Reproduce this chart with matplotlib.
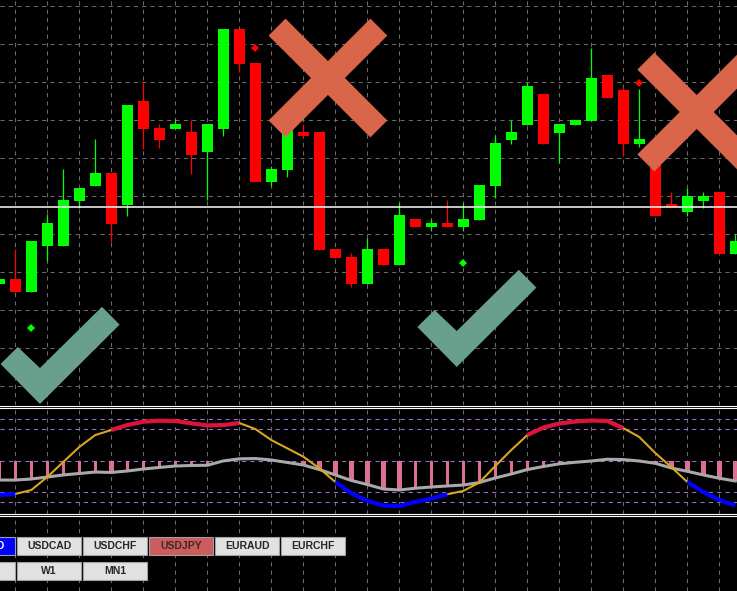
import matplotlib
matplotlib.use("Agg")
import matplotlib.pyplot as plt
from matplotlib.patches import Polygon, Rectangle
from matplotlib.lines import Line2D
import numpy as np

plt.rcParams['lines.scale_dashes'] = False

# candles (price in points above the bottom of the price window)
opens = [121, 125.7, 113.3, 159.3, 159.3, 204.3, 219.3, 232, 200.3, 304, 277, 276.3, 273, 253.3, 276.3,
         376, 341.7, 223.3, 235.3, 272.7, 273, 156.3, 148.3, 121.3, 156, 140, 186, 178, 182, 178, 185,
         219, 265, 280, 311, 272, 280, 284, 330, 315, 261, 255, 201, 193, 204, 213, 151]
highs = [125.7, 156, 164, 190.7, 236, 217, 266, 232, 300, 322.7, 281, 286, 284.7, 281, 376,
         376, 341.7, 239.3, 277, 280.7, 273, 156.3, 151.7, 167.3, 156, 202, 186, 186, 205, 202, 220,
         270, 285, 323, 311, 281, 285, 357, 330, 318.3, 315.7, 255, 213, 217, 213, 213, 171]
lows = [121, 113.3, 113.3, 144.3, 159.3, 196.7, 219.3, 163.3, 189.3, 256.3, 257.3, 276.3, 231.3, 204.7, 269.3,
        333.3, 223.3, 219.3, 228.3, 267.3, 155.3, 147, 117.7, 121.3, 140, 140, 178, 174, 178, 174, 185,
        207, 261, 280, 261, 242, 280, 284, 307, 249, 257.7, 189.3, 198, 189, 197, 151, 151]
closes = [125.7, 113.3, 164, 182, 205, 217, 232, 181.3, 300, 276.3, 265.3, 281, 250.3, 281, 376,
          341.3, 223.3, 236, 277, 269.3, 155.3, 147, 121.3, 156.3, 140, 190, 178, 182, 178, 186, 220,
          262, 273, 319, 261, 281, 285, 327, 307, 261, 266, 189.3, 198, 209, 209, 151, 164]
bid_price = 198.5
price_grid = [18.7, 56.7, 94.7, 132.7, 170.7, 208.7, 246.7, 284.7, 322.7, 360.7, 398.7]

# signal arrows and trade marks (candle index, price)
sell_idx = [16, 40]
sell_px = [357, 322]
buy_idx = [2, 29]
buy_px = [77, 142]
cross_at = [(20.54, 327), (43.59, 293)]
tick_at = [(2.54, 1), (28.59, 38)]

# oscillator 0-100 and its signal line
osc = [16.9, 17.9, 21.7, 34.2, 48.7, 63.1, 74.6, 79.4, 84.2, 87.4, 88.4, 88.1, 85.9, 83.8, 84.2,
       86.2, 80.4, 69.8, 61.8, 53.8, 42.6, 29.4, 18.6, 11.2, 6.8, 6.3, 10.2, 13.4, 17.6, 20.8, 28.9,
       44.8, 60.2, 74.6, 81.8, 85.7, 87.6, 88.6, 88.1, 81.3, 72.7, 57.3, 43.8, 29.4, 19.8, 12.1, 6.8]
osc_zone = "b" + "o" * 6 + "r" * 8 + "o" * 6 + "b" * 7 + "o" * 5 + "r" * 6 + "o" * 4 + "b" * 3
signal = [31.3, 31.3, 32.3, 34.2, 36.2, 37.6, 39.0, 38.6, 40.0, 41.9, 43.4, 44.8, 45.3, 45.5, 49.7,
          51.7, 52.0, 50.6, 48.2, 45.8, 41.4, 36.2, 30.9, 27.0, 22.7, 21.7, 23.4, 24.6, 25.6, 26.5, 28.9,
          33.3, 37.1, 41.4, 44.3, 46.9, 48.4, 49.6, 51.3, 51.0, 49.6, 47.4, 42.9, 39.7, 36.2, 33.0, 30.4]
levels = [10, 20, 50, 80, 90]

row1 = ["NZDUSD", "USDCAD", "USDCHF", "USDJPY", "EURAUD", "EURCHF"]
row2 = ["D1", "W1", "MN1"]
current_pair = "NZDUSD"
active_pair = "USDJPY"

W, H = 737, 591
STEP = 16.0  # pixels per candle
x_lo, x_hi = 0.7 / STEP, (W + 0.7) / STEP

fig = plt.figure(figsize=(W / 100, H / 100), dpi=100, facecolor="black")

x = np.arange(len(opens))
o, hi, lo, c = map(np.array, (opens, highs, lows, closes))
vgrid = x[1::2]
grid_kw = dict(color="#6a6a6a", lw=0.75, ls=(0, (3, 3)))


def fy(p):
    return 1 - p / H


def setup(a):
    a.set_facecolor("black")
    a.set_xlim(x_lo, x_hi)
    for s in a.spines.values():
        s.set_visible(False)
    a.set_xticks([])
    a.set_yticks([])
    for gx in vgrid:
        a.axvline(gx, zorder=0, **grid_kw)


# price window
ax = fig.add_axes([0, fy(405), 1, 405 / H])
setup(ax)
ax.set_ylim(0, 405)
for gy in price_grid:
    ax.axhline(gy, zorder=0, **grid_kw)

cols = np.where(c >= o, "#00ff00", "#ff0000")
ax.vlines(x, lo, hi, colors=cols, lw=0.9, zorder=2)
ax.bar(x, np.maximum(np.abs(c - o), 1), bottom=np.minimum(o, c), width=0.66, color=cols, lw=0, zorder=3)
ax.axhline(bid_price, color="white", lw=1.1, zorder=4)
ax.plot(sell_idx, sell_px, "D", color="#ff0000", ms=4.5, mew=0, zorder=5)
ax.plot(buy_idx, buy_px, "D", color="#00ff00", ms=4.5, mew=0, zorder=5)

# big X and tick overlays, drawn in pixel offsets
L, hw = 72.0, 12.0
r2 = np.sqrt(0.5)
for cx, cy in cross_at:
    for ux, uy in [(r2, r2), (r2, -r2)]:
        vx, vy = uy, -ux
        pts = [(sx * L * ux + sw * hw * vx, sx * L * uy + sw * hw * vy)
               for sx, sw in [(1, 1), (1, -1), (-1, -1), (-1, 1)]]
        ax.add_patch(Polygon([(cx + dx / STEP, cy + dy) for dx, dy in pts],
                             closed=True, fc="#d9654b", ec="none", zorder=6))
tick_shape = [(0, 0), (-39.4, 40), (-22.2, 57), (0, 36), (62, 97.2), (79.7, 79.4)]
for cx, cy in tick_at:
    ax.add_patch(Polygon([(cx + dx / STEP, cy + dy) for dx, dy in tick_shape],
                         closed=True, fc="#699f8d", ec="none", zorder=6))

# oscillator window
ax2 = fig.add_axes([0, fy(513.5), 1, 106 / H])
setup(ax2)
ax2.set_ylim(-0.9, 101.1)
for lv in levels:
    ax2.axhline(lv, color="#9a70d8", lw=0.75, ls=(0, (3, 3)), zorder=1)

sig = np.array(signal)
falling = np.r_[False, sig[1:] < sig[:-1]]
widths = np.where(falling, 4.5 / STEP, 2.6 / STEP)
below = sig < 50
ax2.bar(x[below], sig[below] - 50, bottom=50, width=widths[below], color="#db7093", lw=0, zorder=2)
ax2.plot(x, sig, color="#a9a9a9", lw=2.2, zorder=3)

styles = {"b": ("#0000ff", 3.0), "o": ("#daa520", 1.5), "r": ("#dc143c", 3.0)}
osc_a = np.array(osc)
start = 0
for k in range(1, len(osc_zone) + 1):
    if k == len(osc_zone) or osc_zone[k] != osc_zone[start]:
        col, lw = styles[osc_zone[start]]
        ax2.plot(x[start:k + 1], osc_a[start:k + 1], color=col, lw=lw, zorder=4,
                 solid_capstyle="butt", solid_joinstyle="round")
        start = k

# empty lower window with the buttons
ax3 = fig.add_axes([0, 0, 1, fy(516)])
setup(ax3)

for yy in [405.5, 407.5, 513.5, 515.5]:
    fig.add_artist(Line2D([0, 1], [fy(yy), fy(yy)], color="white", lw=0.8, transform=fig.transFigure))

ov = fig.add_axes([0, 0, 1, 1], facecolor="none")
ov.set_xlim(0, W)
ov.set_ylim(H, 0)
ov.axis("off")


def button(x0, y0, label, fc, tc):
    ov.add_patch(Rectangle((x0, y0), 63.7, 18.6, fc=fc, ec="#a0a0a0", lw=0.8))
    mid = x0 + 31.85
    if mid + 3.7 * len(label) > 0:  # skip labels scrolled fully off the left edge
        ov.text(mid, y0 + 9.6, label, ha="center", va="center", color=tc,
                fontsize=7.5, family="Liberation Sans", weight="bold")


for k, name in enumerate(row1):
    if name == current_pair:
        fc, tc = "#0000ff", "white"
    elif name == active_pair:
        fc, tc = "#cd5c5c", "#3a2a2a"
    else:
        fc, tc = "#e1e1e1", "#262626"
    button(-48.7 + 66 * k, 536.7, name, fc, tc)
for k, name in enumerate(row2):
    button(-48.7 + 66 * k, 561.7, name, "#e1e1e1", "#262626")

fig.savefig("out.png", dpi=100, facecolor="black")
